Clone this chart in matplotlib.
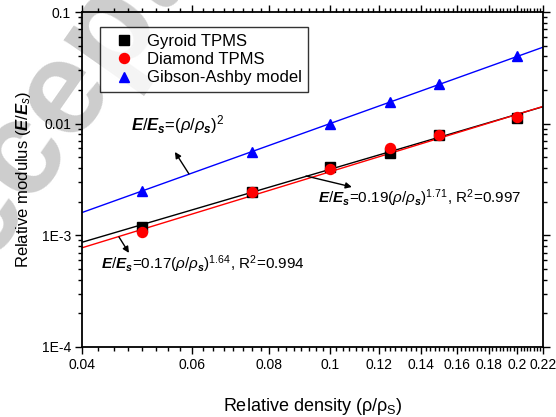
import numpy as np
import matplotlib
matplotlib.use("Agg")
import matplotlib.pyplot as plt
from matplotlib.ticker import FixedLocator, FixedFormatter, LogLocator, NullFormatter

plt.rcParams["font.family"] = "Liberation Sans"
plt.rcParams["mathtext.fontset"] = "custom"
plt.rcParams["mathtext.rm"] = "Liberation Sans"
plt.rcParams["mathtext.it"] = "Liberation Sans:italic"
plt.rcParams["mathtext.bf"] = "Liberation Sans:bold"
plt.rcParams["mathtext.bfit"] = "Liberation Sans:bold:italic"

# relative density of the samples
density = [0.05, 0.075, 0.1, 0.125, 0.15, 0.2]
gyroid = [0.00119, 0.00246, 0.00409, 0.00547, 0.00793, 0.0112]
diamond = [0.00108, 0.00242, 0.00393, 0.00606, 0.00793, 0.0115]
gibson = [0.0025, 0.0056, 0.01, 0.0156, 0.0225, 0.04]

# power-law fits E/Es = C * rho^n
fit_range = [0.04, 0.22]
gyroid_fit = (0.17, 1.64)
diamond_fit = (0.19, 1.71)
gibson_fit = (1.0, 2.0)

xticks = [0.04, 0.06, 0.08, 0.1, 0.12, 0.14, 0.16, 0.18, 0.2, 0.22]
xtick_labels = ["0.04", "0.06", "0.08", "0.1", "0.12", "0.14", "0.16", "0.18", "0.2", "0.22"]
yticks = [1e-4, 1e-3, 1e-2, 1e-1]
ytick_labels = ["1E-4", "1E-3", "0.01", "0.1"]

fig = plt.figure(figsize=(5.56, 4.17), dpi=100)
ax = fig.add_axes([0.1475, 0.1679, 0.8291, 0.8033])
ax.patch.set_alpha(0)

# watermark
fig.text(0.137, 0.811, "Accepted", fontsize=96, color="#cdcdcd", rotation=55,
         fontweight="bold", ha="center", va="center", rotation_mode="anchor",
         zorder=-5)

xf = np.array(fit_range)
ax.plot(xf, gibson_fit[0] * xf ** gibson_fit[1], color="blue", lw=1)
ax.plot(xf, gyroid_fit[0] * xf ** gyroid_fit[1], color="black", lw=1)
ax.plot(xf, diamond_fit[0] * xf ** diamond_fit[1], color="red", lw=1)

ax.plot(density, gyroid, "s", color="black", ms=6.5, label="Gyroid TPMS")
ax.plot(density, diamond, "o", color="red", ms=7.2, label="Diamond TPMS")
ax.plot(density, gibson, "^", color="blue", ms=7.8, label="Gibson-Ashby model")

ax.set_xscale("log")
ax.set_yscale("log")
ax.set_xlim(0.04, 0.22)
ax.set_ylim(1e-4, 0.1)

ax.xaxis.set_major_locator(FixedLocator(xticks))
ax.xaxis.set_major_formatter(FixedFormatter(xtick_labels))
ax.xaxis.set_minor_locator(FixedLocator(np.arange(0.04, 0.2201, 0.0025)))
ax.xaxis.set_minor_formatter(NullFormatter())
ax.yaxis.set_major_locator(FixedLocator(yticks))
ax.yaxis.set_major_formatter(FixedFormatter(ytick_labels))
ax.yaxis.set_minor_locator(LogLocator(base=10, subs=np.arange(2, 10)))
ax.yaxis.set_minor_formatter(NullFormatter())

ax.tick_params(which="both", direction="out", top=True, right=True,
               labelsize=10, width=1)
ax.tick_params(which="major", length=5, pad=3)
ax.tick_params(which="minor", length=3)
for sp in ax.spines.values():
    sp.set_linewidth(1.3)

ax.set_xlabel(r"Relative density (ρ/ρ$_\mathrm{S}$)", fontsize=13, labelpad=17)
ax.set_ylabel(r"Relative modulus ($\mathbfit{E}/\mathbfit{E}_s$)", fontsize=12, labelpad=6)

leg = ax.legend(loc="upper left", bbox_to_anchor=(0.039, 0.955), borderaxespad=0,
                fontsize=12, frameon=True, fancybox=False, handletextpad=0.3,
                borderpad=0.4, labelspacing=0.2, handlelength=2.1)
leg.get_frame().set_edgecolor("black")
leg.get_frame().set_linewidth(1)

arrow = dict(arrowstyle="-|>", color="black", lw=1, mutation_scale=9,
             shrinkA=0, shrinkB=0)

# labels of the fitted curves, arrows run from each curve
ax.text(0.0479, 0.0099,
        r"$\mathbfit{E}/\mathbfit{E}_\mathbfit{s}$=$(\rho/\rho_\mathbfit{s})^2$",
        fontsize=12, ha="left", va="center")
ax.annotate("", xy=(0.0564, 0.00558), xytext=(0.0594, 0.00355), arrowprops=arrow)

ax.text(0.0958, 0.00216,
        r"$\mathbfit{E}/\mathbfit{E}_\mathbfit{s}$=0.19$(\rho/\rho_\mathbfit{s})^{1.71}$, R$^2$=0.997",
        fontsize=11, ha="left", va="center")
ax.annotate("", xy=(0.1085, 0.00271), xytext=(0.0916, 0.00340), arrowprops=arrow)

ax.text(0.0429, 0.000555,
        r"$\mathbfit{E}/\mathbfit{E}_\mathbfit{s}$=0.17$(\rho/\rho_\mathbfit{s})^{1.64}$, R$^2$=0.994",
        fontsize=11, ha="left", va="center")
ax.annotate("", xy=(0.04758, 0.000696), xytext=(0.04585, 0.000968), arrowprops=arrow)

fig.savefig("out.png", dpi=100)
